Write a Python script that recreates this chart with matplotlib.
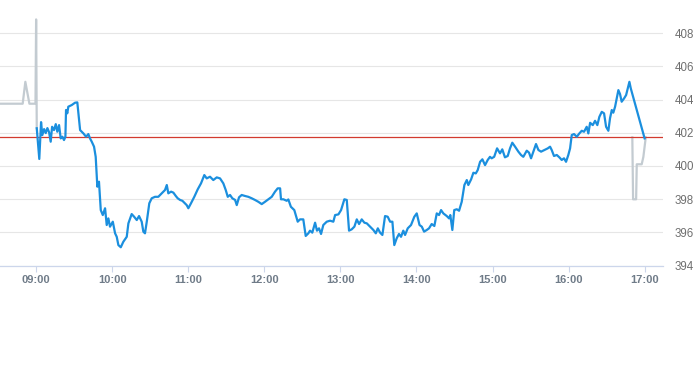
import numpy as np
import pandas as pd
import matplotlib
matplotlib.use("Agg")
from matplotlib import pyplot as plt
import matplotlib.dates as mdates

# minutes after 09:00 and price, regular session
session_min = [0.4, 2.4, 3.8, 4.8, 6.2, 7.5, 8.8, 10.1, 11.4, 12.5, 14.0, 15.4, 16.6, 18.0, 19.3, 20.6,
               21.9, 23.0, 23.5, 24.5, 25.3, 28.0, 30.6, 32.4, 34.6, 37.2, 39.3, 41.1, 42.4, 43.8, 45.6,
               46.9, 48.2, 49.5, 50.9, 52.5, 54.3, 55.6, 56.9, 58.2, 60.4, 62.2, 63.5, 64.8, 66.7, 68.7,
               71.4, 72.7, 75.3, 77.2, 79.3, 81.1, 83.2, 84.5, 85.8, 87.2, 89.2, 91.1, 93.7, 96.3, 99.0,
               101.6, 103.0, 104.2, 106.4, 108.2, 110.1, 111.6, 113.5, 115.3, 116.9, 118.7, 120.0, 122.1,
               124.7, 127.4, 130.0, 132.6, 134.5, 137.1, 139.7, 142.4, 145.0, 147.6, 149.5, 151.1, 152.9,
               154.7, 156.9, 158.2, 160.0, 162.1, 164.7, 167.3, 170.0, 172.6, 175.2, 177.9, 180.5, 183.1,
               185.8, 188.4, 190.5, 192.4, 193.1, 195.0, 197.6, 198.9, 200.9, 203.6, 206.3, 208.1, 210.7,
               212.6, 214.7, 216.0, 217.8, 220.0, 221.5, 223.1, 224.7, 226.5, 229.2, 231.8, 234.4, 235.8,
               238.4, 240.5, 243.1, 245.0, 246.8, 248.9, 251.0, 252.9, 254.7, 256.8, 258.9, 260.8, 263.4,
               266.0, 267.9, 269.5, 271.3, 273.1, 275.2, 277.3, 279.2, 281.0, 282.5, 284.4, 286.2, 287.8,
               289.6, 291.0, 293.1, 295.7, 298.3, 300.2, 302.4, 304.2, 306.0, 308.1, 309.9, 312.0, 314.1,
               316.0, 317.8, 319.4, 321.2, 323.9, 325.7, 326.7, 328.3, 329.8, 331.8, 333.6, 335.7, 337.8,
               339.7, 340.9, 343.1, 344.9, 346.8, 348.3, 350.2, 352.0, 354.1, 356.2, 358.0, 359.3, 361.3,
               363.6, 365.9, 367.7, 369.8, 372.0, 373.8, 375.6, 377.8, 380.4, 382.5, 384.3, 387.0, 388.8,
               390.4, 392.2, 394.3, 396.2, 398.3, 400.9, 403.6, 405.4, 406.7, 408.5, 410.7, 412.7, 414.6,
               416.4, 418.0, 419.8, 421.2, 422.5, 424.3, 426.5, 428.5, 430.4, 432.2, 434.3, 435.6, 437.0,
               439.1, 440.9, 442.7, 444.3, 446.2, 448.0, 449.6, 451.4, 452.7, 454.1, 455.3, 456.7, 458.0,
               459.3, 460.6, 461.9, 463.8, 465.4, 466.4, 468.0, 469.1, 480.0]
session_px = [402.27, 400.42, 402.64, 401.86, 402.22, 401.98, 402.28, 402.04, 401.46, 402.36, 402.16,
              402.52, 402.06, 402.46, 401.66, 401.76, 401.56, 401.76, 403.37, 403.17, 403.57, 403.67,
              403.81, 403.83, 402.16, 401.96, 401.76, 401.92, 401.66, 401.46, 401.16, 400.55, 398.75,
              399.05, 397.34, 397.04, 397.45, 396.44, 396.84, 396.34, 396.64, 395.94, 395.73, 395.23,
              395.10, 395.43, 395.73, 396.54, 397.10, 396.94, 396.74, 396.98, 396.64, 396.04, 395.94,
              396.64, 397.75, 398.05, 398.14, 398.14, 398.35, 398.55, 398.85, 398.35, 398.45, 398.39,
              398.19, 398.05, 397.95, 397.90, 397.78, 397.64, 397.45, 397.75, 398.14, 398.59, 398.95,
              399.45, 399.25, 399.35, 399.15, 399.31, 399.25, 398.95, 398.55, 398.14, 398.25, 398.05,
              397.95, 397.64, 398.11, 398.25, 398.19, 398.14, 398.05, 397.95, 397.84, 397.70, 397.84,
              397.99, 398.14, 398.45, 398.65, 398.65, 397.99, 397.99, 397.90, 397.98, 397.54, 397.34,
              396.64, 396.78, 396.78, 395.78, 395.94, 396.10, 395.98, 396.58, 396.10, 396.24, 395.90,
              396.44, 396.64, 396.70, 396.64, 397.04, 397.08, 397.34, 397.99, 397.95, 396.10, 396.18,
              396.34, 396.78, 396.50, 396.78, 396.58, 396.54, 396.34, 396.14, 395.94, 396.24, 395.98,
              395.84, 396.98, 396.94, 396.64, 396.64, 395.23, 395.64, 395.90, 395.73, 396.10, 395.84,
              396.24, 396.44, 396.94, 397.14, 396.44, 396.34, 396.04, 396.14, 396.24, 396.50, 396.38,
              397.14, 397.04, 397.34, 397.14, 396.98, 396.84, 397.04, 396.14, 397.34, 397.39, 397.30,
              397.84, 398.85, 399.15, 398.85, 399.19, 399.59, 399.55, 399.75, 400.25, 400.40, 400.05,
              400.36, 400.55, 400.46, 400.55, 401.06, 400.76, 401.00, 400.52, 400.60, 401.06, 401.40,
              401.16, 400.86, 400.66, 400.55, 400.92, 400.80, 400.46, 400.86, 401.32, 400.96, 400.86,
              400.96, 401.06, 401.16, 400.96, 400.60, 400.66, 400.52, 400.36, 400.46, 400.25, 400.66,
              401.06, 401.86, 401.92, 401.76, 401.96, 402.12, 402.06, 402.36, 401.96, 402.60, 402.46,
              402.72, 402.46, 402.96, 403.26, 403.17, 402.36, 402.12, 402.87, 403.37, 403.21, 403.57,
              404.07, 404.57, 404.33, 403.87, 404.07, 404.27, 404.57, 405.07, 404.67, 401.66]

# pre-market and after-hours trades
pre_min = [-28.6, -10.7, -8.6, -5.4, -0.6, -0.1, 0.4]
pre_px = [403.75, 403.75, 405.07, 403.75, 403.75, 408.83, 402.27]
post_min = [470.3, 470.9, 473.3, 473.8, 477.7, 479.0, 480.9]
post_px = [401.72, 397.99, 397.99, 400.10, 400.10, 400.54, 401.72]

prev_close = 401.74
y_ticks = [394, 396, 398, 400, 402, 404, 406, 408]

day = pd.Timestamp("2024-05-02 09:00")


def to_time(minutes):
    return day + pd.to_timedelta(np.array(minutes), unit="m")


fig = plt.figure(figsize=(6.93, 3.65), dpi=100)
ax = fig.add_axes([0.0, 0.2726, 0.9567, 0.7274])

ax.plot(to_time(pre_min), pre_px, color="#c3cbd1", lw=1.6, zorder=2)
ax.plot(to_time(post_min), post_px, color="#c3cbd1", lw=1.6, zorder=2)
ax.axhline(prev_close, color="#d23a2f", lw=0.9, zorder=3)
ax.plot(to_time(session_min), session_px, color="#1b8fde", lw=1.6, zorder=4,
        solid_joinstyle="round")

ax.set_xlim(day + pd.Timedelta(minutes=-28.6), day + pd.Timedelta(minutes=494.5))
ax.set_ylim(394, 410)

ax.xaxis.set_major_locator(mdates.HourLocator(byhour=range(9, 18)))
ax.xaxis.set_major_formatter(mdates.DateFormatter("%H:%M"))
ax.set_yticks(y_ticks)
ax.yaxis.tick_right()

ax.grid(axis="y", color="#e6e6e6", lw=0.8, zorder=0)
for s in ["top", "left", "right"]:
    ax.spines[s].set_visible(False)
ax.spines["bottom"].set_color("#ccd6eb")
ax.spines["bottom"].set_linewidth(0.9)

ax.tick_params(axis="x", length=4, width=0.8, color="#ccd6eb", pad=3,
               labelsize=8, labelcolor="#6f7b88")
ax.tick_params(axis="y", length=0, pad=8.6, labelsize=8.3, labelcolor="#6f6f6f")
for lab in ax.get_xticklabels() + ax.get_yticklabels():
    lab.set_fontfamily("Liberation Sans")
for lab in ax.get_xticklabels():
    lab.set_fontweight("bold")
for lab in ax.get_yticklabels():
    lab.set_horizontalalignment("left")

fig.savefig("out.png", dpi=100)
